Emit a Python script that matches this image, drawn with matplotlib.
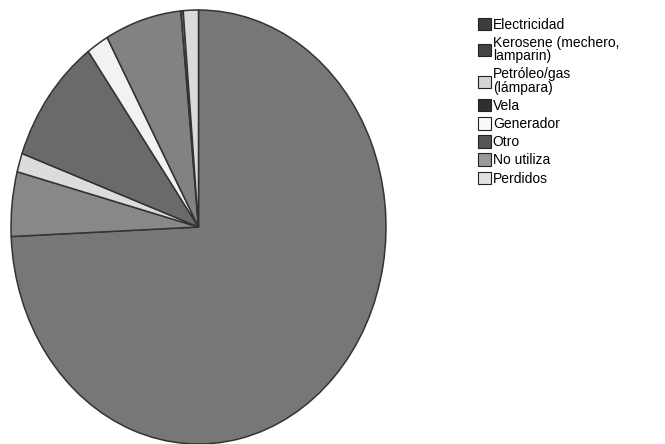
import matplotlib.pyplot as plt
from matplotlib.patches import Patch

plt.rcParams['font.family'] = ['Liberation Sans', 'DejaVu Sans']

# datos (porcentajes)
categorias = ['Electricidad', 'Kerosene (mechero,\nlamparin)', 'Petróleo/gas\n(lámpara)',
              'Vela', 'Generador', 'Otro', 'No utiliza', 'Perdidos']
valores = [74.3, 4.8, 1.4, 9.5, 1.9, 6.6, 0.2, 1.3]

colores_pie = ['#777777', '#888888', '#dcdcdc', '#6a6a6a', '#f2f2f2', '#828282', '#777777', '#dadada']
colores_leyenda = ['#3c3c3c', '#444444', '#d4d4d4', '#2f2f2f', '#fafafa', '#555555', '#9a9a9a', '#e2e2e2']

fig = plt.figure(figsize=(6.65, 4.44), dpi=100)
ax = fig.add_axes([11 / 665, 0 / 444, 375 / 665, 434 / 444])

ax.pie(valores, colors=colores_pie, startangle=90, counterclock=False,
       wedgeprops={'edgecolor': '#333333', 'linewidth': 1.1})
ax.set_aspect('auto')
ax.set_xlim(-1, 1)
ax.set_ylim(-1, 1)

handles = [Patch(facecolor=c, edgecolor='#222222', linewidth=0.8) for c in colores_leyenda]
leg = fig.legend(handles, categorias, loc='upper left', bbox_to_anchor=(472 / 665, 1 - 12 / 444),
                 frameon=False, fontsize=10, handlelength=1.0, handleheight=1.0,
                 handletextpad=0.1, labelspacing=0.3, borderaxespad=0)
for t in leg.get_texts():
    t.set_linespacing(0.95)

plt.savefig('out.png', dpi=100)
